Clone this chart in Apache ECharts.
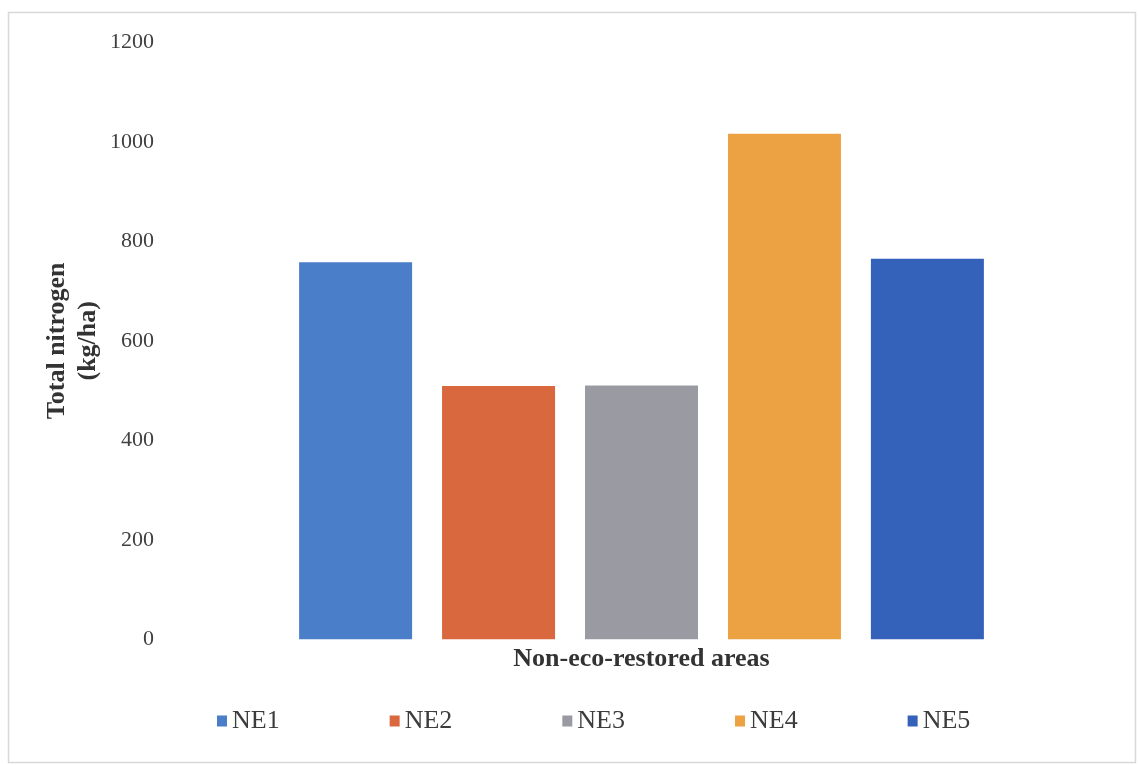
<!DOCTYPE html>
<html>
<head>
<meta charset="utf-8">
<script src="https://cdn.jsdelivr.net/npm/echarts@6/dist/echarts.min.js"></script>
<style>
  html, body { margin: 0; padding: 0; background: #ffffff; }
  #chart { width: 1139px; height: 765px; }
</style>
</head>
<body>
<div id="chart"></div>
<script>
// Total nitrogen (kg/ha) for each non-eco-restored site
const category = ['Non-eco-restored areas'];
const siteNames = ['NE1', 'NE2', 'NE3', 'NE4', 'NE5'];
const nitrogen = [758, 509, 510, 1016, 765];
const siteColors = ['#4a7ec8', '#d9683e', '#9a9ba2', '#eca143', '#3461b9'];
const yTicks = { min: 0, max: 1200, step: 200 };

const serif = '"Liberation Serif", "Times New Roman", serif';

const chart = echarts.init(document.getElementById('chart'), null, { renderer: 'canvas' });

const series = siteNames.map((name, i) => ({
  name: name,
  type: 'bar',
  data: [nitrogen[i]],
  barWidth: 113,
  barGap: '26.5%',
  itemStyle: { color: siteColors[i] },
  emphasis: { disabled: true }
}));

chart.setOption({
  animation: false,
  backgroundColor: '#ffffff',
  color: siteColors,
  graphic: [{
    type: 'rect',
    shape: { x: 8.5, y: 12.5, width: 1127, height: 750 },
    style: { fill: 'none', stroke: '#d6d8dc', lineWidth: 1.5 },
    silent: true,
    z: -1
  }],
  grid: { left: 170, right: 26, top: 42.3, bottom: 125.7 },
  legend: {
    data: siteNames,
    left: 212,
    top: 703,
    icon: 'rect',
    itemWidth: 10,
    itemHeight: 11,
    itemGap: 110,
    textStyle: { fontFamily: serif, fontSize: 26, color: '#3c3c3c' }
  },
  xAxis: {
    type: 'category',
    data: category,
    axisLine: { show: false },
    axisTick: { show: false },
    axisLabel: {
      margin: 7,
      fontFamily: serif,
      fontSize: 26,
      fontWeight: 'bold',
      color: '#333333'
    },
    splitLine: { show: false }
  },
  yAxis: {
    type: 'value',
    min: yTicks.min,
    max: yTicks.max,
    interval: yTicks.step,
    name: 'Total nitrogen\n(kg/ha)',
    nameLocation: 'middle',
    nameGap: 66,
    nameMoveOverlap: false,
    nameTextStyle: {
      fontFamily: serif,
      fontSize: 26,
      fontWeight: 'bold',
      color: '#333333',
      lineHeight: 31,
      align: 'center'
    },
    axisLine: { show: false },
    axisTick: { show: false },
    splitLine: { show: false },
    axisLabel: {
      margin: 16,
      fontFamily: serif,
      fontSize: 22,
      color: '#404040',
      formatter: (v) => String(v)
    }
  },
  series: series
});
</script>
</body>
</html>
